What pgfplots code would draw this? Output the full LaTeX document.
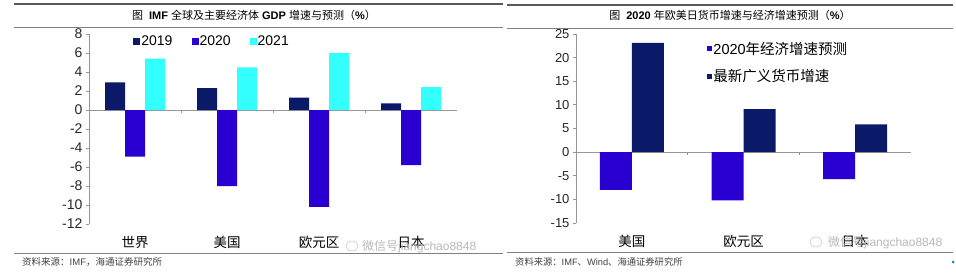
\documentclass[border=0pt]{standalone}
\usepackage{pgfplots}
\pgfplotsset{compat=1.18}
\usepackage{fontspec}
\setmainfont{Liberation Sans}
\newfontfamily\cjk{Noto Sans CJK SC}
\definecolor{cnavy}{RGB}{10,26,104}
\definecolor{cviolet}{RGB}{42,0,210}
\definecolor{ccyan}{RGB}{51,255,255}
\definecolor{axgray}{RGB}{150,150,150}
\begin{document}
\begin{tikzpicture}[x=1pt,y=1pt]
\path[use as bounding box] (0,0) rectangle (956,274);
% frame lines
\draw[line width=1.2pt, black!65] (14,270) -- (503,270);
\draw[line width=1pt, black!50] (14,247) -- (503,247);
\draw[line width=1pt, black!50] (14,21) -- (503,21);
\draw[line width=1.2pt, black!65] (507,269) -- (953,269);
\draw[line width=1pt, black!50] (507,246) -- (953,246);
\draw[line width=1pt, black!50] (507,22) -- (953,22);
% titles
\node[font=\fontsize{11}{11}\selectfont] at (254,259) {{\cjk 图}\hspace{6pt}\textbf{IMF} {\cjk 全球及主要经济体} \textbf{GDP} {\cjk 增速与预测（}\textbf{\%}{\cjk ）}};
\node[font=\fontsize{11}{11}\selectfont] at (730,259) {{\cjk 图}\hspace{6pt}\textbf{2020} {\cjk 年欧美日货币增速与经济增速预测（}\textbf{\%}{\cjk ）}};
% sources
\node[anchor=west, inner sep=0pt, text=black!75, font=\fontsize{9.5}{9.5}\selectfont] at (22,12) {{\cjk 资料来源：}IMF{\cjk ，海通证券研究所}};
\node[anchor=west, inner sep=0pt, text=black!75, font=\fontsize{9.3}{9.3}\selectfont] at (515,12) {{\cjk 资料来源：}IMF{\cjk 、}Wind{\cjk 、海通证券研究所}};

% left chart
\begin{axis}[
  at={(89pt,50pt)}, anchor=south west,
  scale only axis, width=368pt, height=190pt,
  xmin=-0.5, xmax=3.5, ymin=-12, ymax=8,
  axis x line=none, axis y line*=left,
  y axis line style={axgray, line width=0.8pt},
  ytick={-12,-10,...,8},
  ytick style={axgray, line width=0.8pt},
  tick align=outside, major tick length=3pt,
  /pgf/number format/assume math mode=true,
  yticklabel style={font=\fontsize{14}{14}\selectfont, text=black!85},
  ybar=0pt, bar width=20pt,
  clip=false,
  legend columns=3,
  legend cell align=left,
  legend style={at={(0.12,0.995)}, anchor=north west, draw=none, fill=none,
    inner sep=0pt, font=\fontsize{14}{14}\selectfont,
    nodes={inner sep=1pt},
    /tikz/every even column/.append style={column sep=18pt}},
  legend image code/.code={\fill[#1] (0pt,-3.5pt) rectangle (7pt,3.5pt);},
]
\draw[axgray, line width=0.8pt] (axis cs:-0.5,0) -- (axis cs:3.5,0);
\draw[axgray, line width=0.8pt] (axis cs:0.5,0) -- ([yshift=-3pt]axis cs:0.5,0);
\draw[axgray, line width=0.8pt] (axis cs:1.5,0) -- ([yshift=-3pt]axis cs:1.5,0);
\draw[axgray, line width=0.8pt] (axis cs:2.5,0) -- ([yshift=-3pt]axis cs:2.5,0);
\addplot[fill=cnavy, draw=none] coordinates {(0,2.9) (1,2.3) (2,1.3) (3,0.7)};
\addplot[fill=cviolet, draw=none] coordinates {(0,-4.9) (1,-8.0) (2,-10.2) (3,-5.8)};
\addplot[fill=ccyan, draw=none] coordinates {(0,5.4) (1,4.5) (2,6.0) (3,2.4)};
\legend{2019,2020,2021}
\node[font=\cjk\fontsize{13.5}{13.5}\selectfont] at (axis cs:0,-12) [yshift=-18pt] {世界};
\node[font=\cjk\fontsize{13.5}{13.5}\selectfont] at (axis cs:1,-12) [yshift=-18pt] {美国};
\node[font=\cjk\fontsize{13.5}{13.5}\selectfont] at (axis cs:2,-12) [yshift=-18pt] {欧元区};
\node[font=\cjk\fontsize{13.5}{13.5}\selectfont] at (axis cs:3,-12) [yshift=-18pt] {日本};
\end{axis}

% right chart
\begin{axis}[
  at={(576pt,51pt)}, anchor=south west,
  scale only axis, width=335pt, height=189pt,
  xmin=-0.5, xmax=2.5, ymin=-15, ymax=25,
  axis x line=none, axis y line*=left,
  y axis line style={axgray, line width=0.8pt},
  ytick={-15,-10,...,25},
  ytick style={axgray, line width=0.8pt},
  tick align=outside, major tick length=3pt,
  /pgf/number format/assume math mode=true,
  yticklabel style={font=\fontsize{13}{13}\selectfont, text=black!85},
  ybar=0pt, bar width=32pt,
  clip=false,
  legend columns=1,
  legend cell align=left,
  legend style={at={(0.39,0.965)}, anchor=north west, draw=none, fill=none,
    inner sep=0pt, font=\fontsize{14.5}{14.5}\selectfont,
    nodes={inner sep=1pt}, row sep=12pt},
  legend image code/.code={\fill[#1] (0pt,-2.8pt) rectangle (5.6pt,2.8pt);},
]
\draw[axgray, line width=0.8pt] (axis cs:-0.5,0) -- (axis cs:2.5,0);
\draw[axgray, line width=0.8pt] (axis cs:0.5,0) -- ([yshift=-3pt]axis cs:0.5,0);
\draw[axgray, line width=0.8pt] (axis cs:1.5,0) -- ([yshift=-3pt]axis cs:1.5,0);
\addplot[fill=cviolet, draw=none] coordinates {(0,-8.0) (1,-10.2) (2,-5.7)};
\addplot[fill=cnavy, draw=none] coordinates {(0,23.1) (1,9.1) (2,5.9)};
\addlegendentry{2020{\cjk 年经济增速预测}}
\addlegendentry{{\cjk 最新广义货币增速}}
\node[font=\cjk\fontsize{13.5}{13.5}\selectfont] at (axis cs:0,-15) [yshift=-18pt] {美国};
\node[font=\cjk\fontsize{13.5}{13.5}\selectfont] at (axis cs:1,-15) [yshift=-18pt] {欧元区};
\node[font=\cjk\fontsize{13.5}{13.5}\selectfont] at (axis cs:2,-15) [yshift=-18pt] {日本};
\end{axis}

% watermarks
\node[anchor=west, inner sep=0pt, text=black!28, font=\fontsize{12}{12}\selectfont] at (362,27) {{\cjk 微信号}jiangchao8848};
\draw[black!22, line width=0.6pt] (352,28) ellipse (6pt and 5pt);
\node[anchor=west, inner sep=0pt, text=black!28, font=\fontsize{12}{12}\selectfont] at (828,31) {{\cjk 微信号}jiangchao8848};
\draw[black!22, line width=0.6pt] (816,32) ellipse (6pt and 5pt);
\fill[cyan!60!blue] (953,12) circle (1.5pt);
\end{tikzpicture}
\end{document}
